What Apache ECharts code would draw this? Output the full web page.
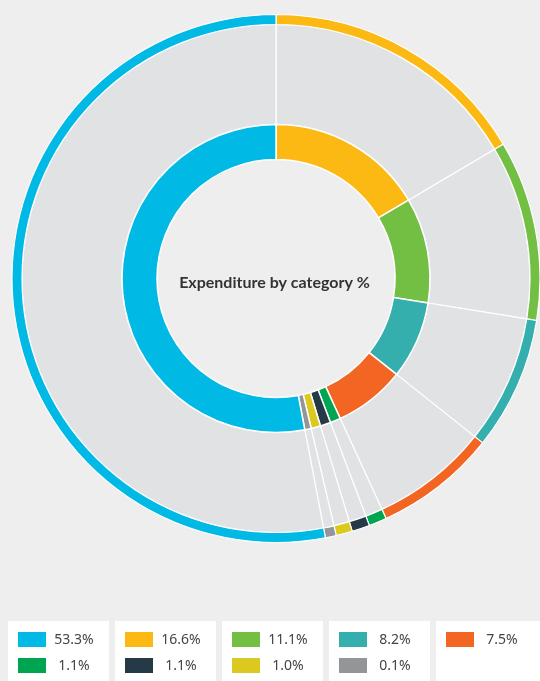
<!DOCTYPE html>
<html>
<head>
<meta charset="utf-8">
<script src="https://cdn.jsdelivr.net/npm/echarts@6/dist/echarts.min.js"></script>
<style>
  html, body { margin: 0; padding: 0; background: #eeeeee; }
  #chart { width: 540px; height: 681px; }
</style>
</head>
<body>
<div id="chart"></div>
<script>
// Expenditure shares, in legend order
const categories = ['c1', 'c2', 'c3', 'c4', 'c5', 'c6', 'c7', 'c8', 'c9'];
const shares = [53.3, 16.6, 11.1, 8.2, 7.5, 1.1, 1.1, 1.0, 0.1];
const colors = ['#00b9e4', '#fdb913', '#72bf44', '#35aeae', '#f26522',
                '#00a551', '#253a46', '#dbc91f', '#939598'];
const centerTitle = 'Expenditure by category %';

// Ring order runs clockwise from 12 o'clock: every category after the
// first, then the largest one closing the circle at the top.
const ringOrder = [1, 2, 3, 4, 5, 6, 7, 8, 0];

function ringData(fill) {
  return ringOrder.map(i => ({
    name: categories[i],
    value: shares[i],
    itemStyle: { color: fill || colors[i] }
  }));
}

const cx = 276, cy = 278.5;

function ring(radius, fill, borderWidth) {
  return {
    type: 'pie',
    center: [cx, cy],
    radius: radius,
    startAngle: 90,
    clockwise: true,
    minAngle: 2.4,
    avoidLabelOverlap: false,
    silent: true,
    label: { show: false },
    labelLine: { show: false },
    itemStyle: { borderColor: '#ffffff', borderWidth: borderWidth },
    emphasis: { disabled: true },
    data: ringData(fill)
  };
}

// Legend built from the same arrays: 5 white cards, two rows of entries
const boxX = [8, 115, 222, 329, 436];
const legendGraphics = [];
boxX.forEach((x, c) => {
  legendGraphics.push({
    type: 'rect', silent: true,
    shape: { x: x, y: 621, width: c === 4 ? 110 : 101, height: 70 },
    style: { fill: '#ffffff' }
  });
});
shares.forEach((v, i) => {
  const col = i % 5, row = Math.floor(i / 5);
  const x = boxX[col];
  const y = 632 + row * 26;
  legendGraphics.push({
    type: 'rect', silent: true,
    shape: { x: x + 10, y: y, width: 28, height: 15 },
    style: { fill: colors[i] }
  });
  legendGraphics.push({
    type: 'text', silent: true,
    x: x + 66, y: y + 8,
    style: {
      text: v.toFixed(1) + '%',
      fill: '#444444',
      font: '14px "Noto Sans"',
      textAlign: 'center',
      textVerticalAlign: 'middle'
    }
  });
});

const chart = echarts.init(document.getElementById('chart'), null, { renderer: 'canvas' });
chart.setOption({
  backgroundColor: '#eeeeee',
  animation: false,
  series: [
    ring([154, 254], '#e1e2e4', 1.2),
    ring([254, 264], null, 1.2),
    ring([119, 154], null, 1.5)
  ],
  graphic: [
    {
      type: 'text', silent: true,
      x: 274.5, y: 283,
      style: {
        text: centerTitle,
        fill: '#333333',
        font: 'bold 16px Lato',
        textAlign: 'center',
        textVerticalAlign: 'middle'
      }
    }
  ].concat(legendGraphics)
});
</script>
</body>
</html>
